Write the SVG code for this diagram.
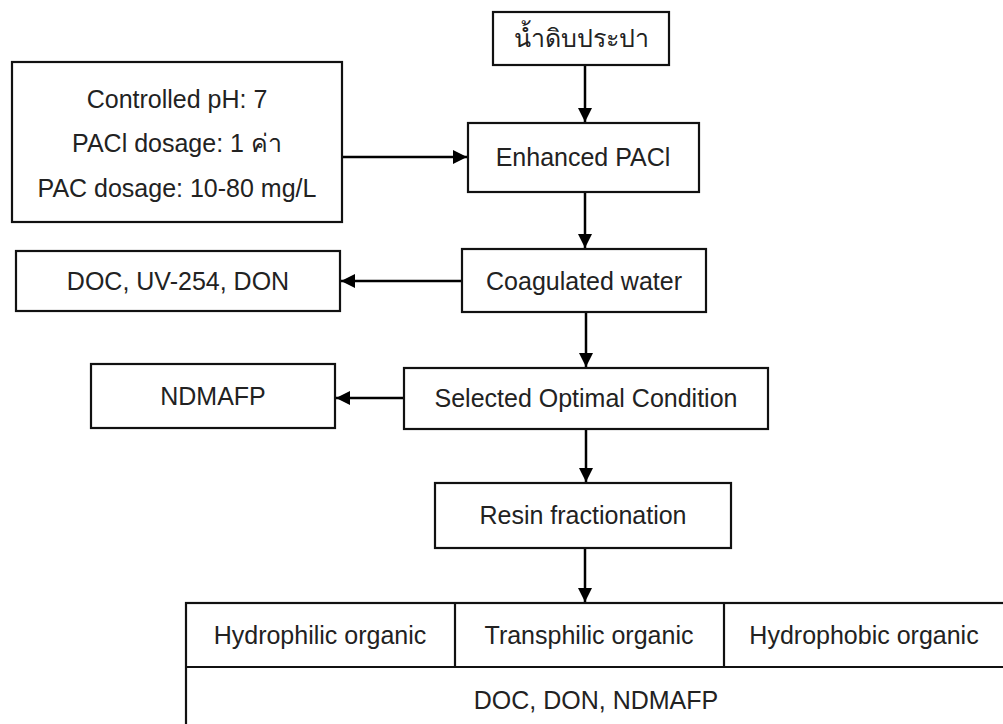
<svg xmlns="http://www.w3.org/2000/svg" width="1003" height="724" viewBox="0 0 1003 724">
<style>
.box{fill:#fff;stroke:#111;stroke-width:2.2}
.t{font-family:"Liberation Sans","Noto Sans","DejaVu Sans",sans-serif;font-size:25px;fill:#222;text-anchor:middle;dominant-baseline:central}
.c{fill:none;stroke:#000;stroke-width:2.5}
</style>
<defs>
<marker id="ah" markerUnits="userSpaceOnUse" markerWidth="14" markerHeight="14" refX="14" refY="7" orient="auto">
<path d="M0,0 L14,7 L0,14 z" fill="#000"/>
</marker>
</defs>
<rect width="1003" height="724" fill="#fff"/>
<g id="connectors">
<line class="c" x1="585" y1="65" x2="585" y2="122" marker-end="url(#ah)"/>
<line class="c" x1="342" y1="157" x2="467" y2="157" marker-end="url(#ah)"/>
<line class="c" x1="585" y1="192" x2="585" y2="248" marker-end="url(#ah)"/>
<line class="c" x1="462" y1="281" x2="341" y2="281" marker-end="url(#ah)"/>
<line class="c" x1="586" y1="312" x2="586" y2="367" marker-end="url(#ah)"/>
<line class="c" x1="404" y1="398" x2="336" y2="398" marker-end="url(#ah)"/>
<line class="c" x1="586" y1="429" x2="586" y2="482" marker-end="url(#ah)"/>
<line class="c" x1="585" y1="548" x2="585" y2="602" marker-end="url(#ah)"/>
</g>
<g id="raw">
<rect class="box" x="493" y="12" width="176" height="53"/>
<text class="t" x="581" y="38">น้ำดิบประปา</text>
</g>
<g id="conditions">
<rect class="box" x="12" y="62" width="330" height="160"/>
<text class="t" x="177" y="99">Controlled pH: 7</text>
<text class="t" x="177" y="143">PACl dosage: 1 ค่า</text>
<text class="t" x="177" y="188">PAC dosage: 10-80 mg/L</text>
</g>
<g id="enhanced">
<rect class="box" x="468" y="123" width="231" height="69"/>
<text class="t" x="583" y="157">Enhanced PACl</text>
</g>
<g id="coagulated">
<rect class="box" x="462" y="249" width="244" height="63"/>
<text class="t" x="584" y="281">Coagulated water</text>
</g>
<g id="doc">
<rect class="box" x="16" y="251" width="324" height="60"/>
<text class="t" x="178" y="281">DOC, UV-254, DON</text>
</g>
<g id="selected">
<rect class="box" x="404" y="368" width="364" height="61"/>
<text class="t" x="586" y="398">Selected Optimal Condition</text>
</g>
<g id="ndmafp">
<rect class="box" x="91" y="364" width="244" height="64"/>
<text class="t" x="213" y="396">NDMAFP</text>
</g>
<g id="resin">
<rect class="box" x="435" y="483" width="296" height="65"/>
<text class="t" x="583" y="515">Resin fractionation</text>
</g>
<g id="fractions">
<rect class="box" x="186" y="603" width="830" height="140"/>
<line class="c" x1="186" y1="667" x2="1016" y2="667" style="stroke-width:2.2;stroke:#111"/>
<line class="c" x1="455" y1="603" x2="455" y2="667" style="stroke-width:2.2;stroke:#111"/>
<line class="c" x1="724" y1="603" x2="724" y2="667" style="stroke-width:2.2;stroke:#111"/>
<text class="t" x="320" y="635">Hydrophilic organic</text>
<text class="t" x="589" y="635">Transphilic organic</text>
<text class="t" x="864" y="635">Hydrophobic organic</text>
<text class="t" x="596" y="700">DOC, DON, NDMAFP</text>
</g>
</svg>
